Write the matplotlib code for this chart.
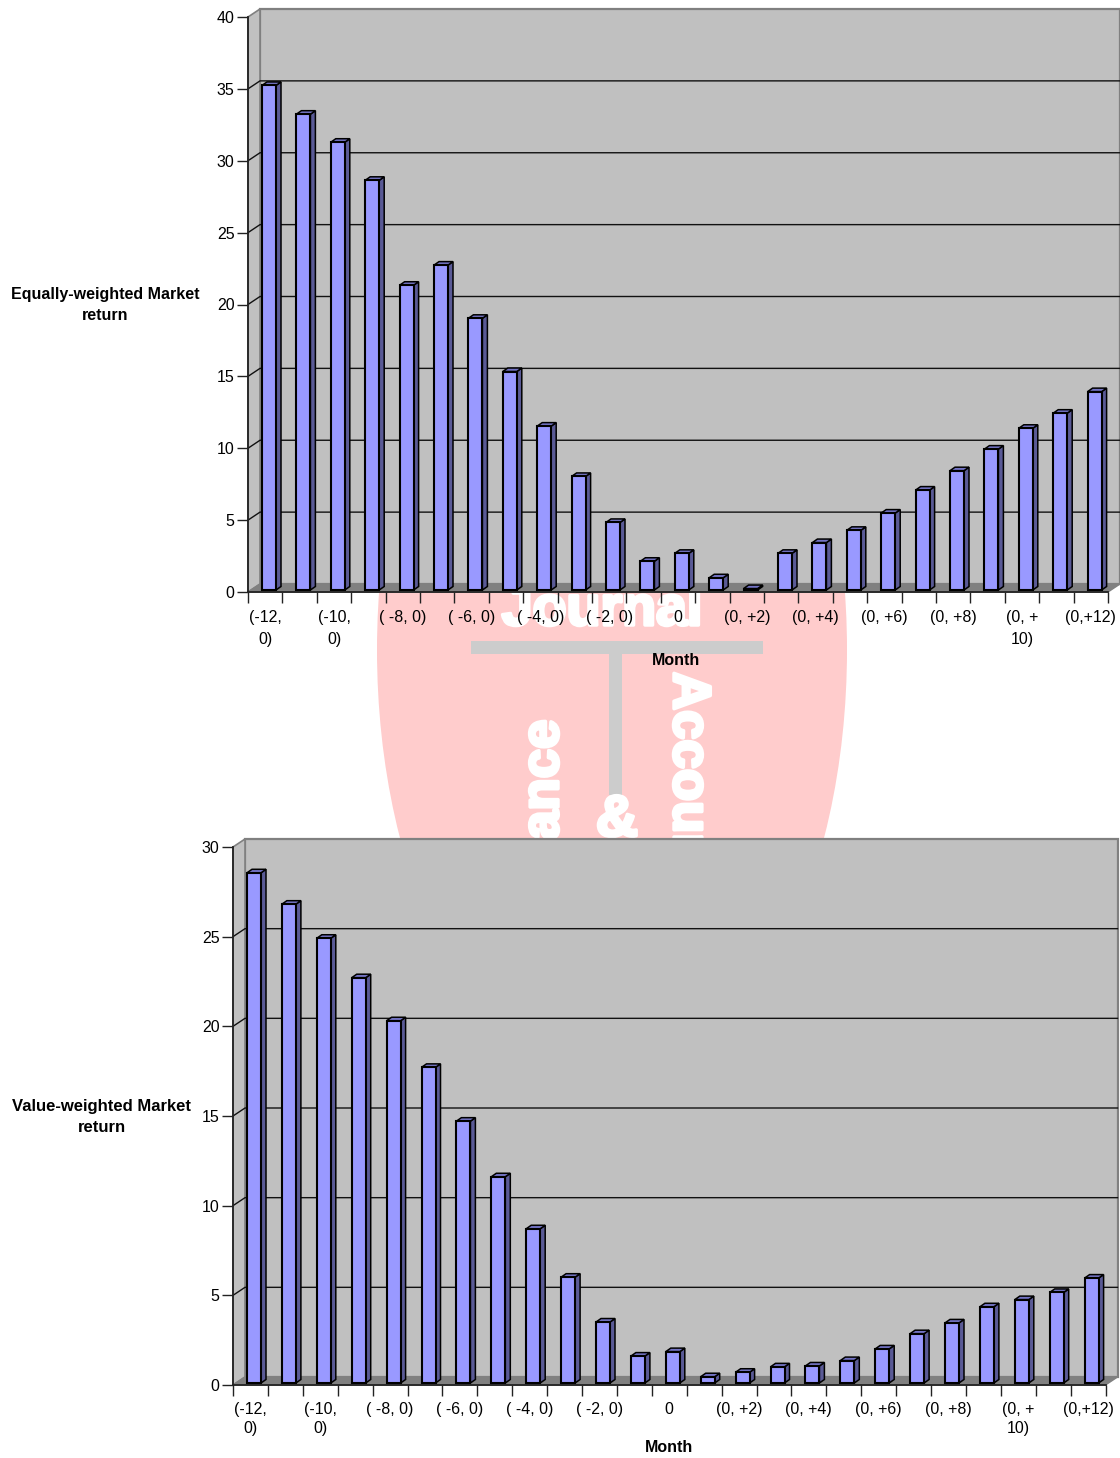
import matplotlib
matplotlib.use('Agg')
import matplotlib.pyplot as plt
import matplotlib.patheffects as pe
from matplotlib.patches import Ellipse, Rectangle, Polygon

plt.rcParams['font.family'] = ['Liberation Sans', 'DejaVu Sans']

W, H = 1120, 1458
month_labels = ['(-12,\n0)', '(-10,\n0)', '( -8, 0)', '( -6, 0)', '( -4, 0)', '( -2, 0)', '0',
                '(0, +2)', '(0, +4)', '(0, +6)', '(0, +8)', '(0, +\n10)', '(0,+12)']
equal_weighted = [35.1, 33.1, 31.15, 28.5, 21.2, 22.6, 18.9, 15.2, 11.4, 7.9, 4.7, 2.0, 2.55,
                  0.85, 0.1, 2.55, 3.3, 4.15, 5.35, 6.95, 8.3, 9.8, 11.25, 12.3, 13.8]
value_weighted = [28.45, 26.7, 24.8, 22.6, 20.2, 17.6, 14.6, 11.5, 8.6, 5.9, 3.4, 1.5, 1.75,
                  0.35, 0.6, 0.9, 0.95, 1.25, 1.9, 2.75, 3.35, 4.25, 4.65, 5.05, 5.85]
equal_ticks = [0, 5, 10, 15, 20, 25, 30, 35, 40]
value_ticks = [0, 5, 10, 15, 20, 25, 30]

fig = plt.figure(figsize=(W / 100, H / 100), dpi=100, facecolor='white')

# watermark layer, in pixel coordinates
bg = fig.add_axes([0, 0, 1, 1], zorder=0)
bg.set_xlim(0, W); bg.set_ylim(H, 0); bg.axis('off')
clip = Rectangle((0, 592), W, 246, transform=bg.transData, fill=False, lw=0)
bg.add_patch(clip)
ell = Ellipse((612, 650), 470, 872, fc='#ffcccc', ec='none')
bg.add_patch(ell); ell.set_clip_path(clip)
for r in [Rectangle((471, 641), 292, 13, fc='#cccccc', ec='none'),
          Rectangle((609, 654), 13, 141, fc='#cccccc', ec='none')]:
    bg.add_patch(r); r.set_clip_path(clip)
wm_style = dict(color='white', fontweight='bold', rotation_mode='anchor', va='baseline')
wm = [bg.text(602, 625, 'Journal', fontsize=40, ha='center', **wm_style),
      bg.text(558, 720, 'Finance', fontsize=38, rotation=90, ha='right', **wm_style),
      bg.text(674, 672, 'Accounting', fontsize=38, rotation=270, ha='left', **wm_style),
      bg.text(617, 836, '&', fontsize=42, ha='center', **wm_style)]
for t in wm:
    t.set_clip_path(clip)
    t.set_path_effects([pe.withStroke(linewidth=2.5, foreground='white')])


def chart(values, yticks, left, right, top, bottom, base_px, first_center_px, ylabel, ylabel_xy, ysize, month_xy, line, pad):
    ax = fig.add_axes([left / W, 1 - bottom / H, (right - left) / W, (bottom - top) / H], zorder=2)
    ax.patch.set_alpha(0)
    n = len(values)
    ax.set_xlim(0, n); ax.set_ylim(0, yticks[-1])
    px = (right - left) / n
    py = (bottom - top) / yticks[-1]
    dx, dy = 12 / px, 8 / py
    ymax = yticks[-1]
    kw = dict(clip_on=False)
    ax.add_patch(Polygon([(dx, dy), (n + dx, dy), (n + dx, ymax + dy), (dx, ymax + dy)], fc='#c0c0c0', ec='#808080', lw=1.6, zorder=1, **kw))
    ax.add_patch(Polygon([(0, 0), (dx, dy), (dx, ymax + dy), (0, ymax)], fc='#c0c0c0', ec='#808080', lw=1.2, zorder=1, **kw))
    ax.add_patch(Polygon([(0, 0), (n, 0), (n + dx, dy), (dx, dy)], fc='#808080', ec='#808080', lw=1, zorder=1, **kw))
    for v in yticks[1:-1]:
        ax.plot([0, dx, n + dx], [v, v + dy, v + dy], color='#111111', lw=1, zorder=1.5, **kw)
    # bars with a small 3-D depth
    bw = 14 / px
    c0 = (first_center_px - left) / px
    base = base_px / py
    ddx, ddy = 5 / px, 3.5 / py
    xs = [c0 + i for i in range(n)]
    for x, v in zip(xs, values):
        xl, xr, y = x - bw / 2, x + bw / 2, base + v
        ax.add_patch(Polygon([(xr, base), (xr + ddx, base + ddy), (xr + ddx, y + ddy), (xr, y)],
                             fc='#5a5a96', ec='black', lw=1.1, zorder=3, **kw))
        ax.add_patch(Polygon([(xl, y), (xr, y), (xr + ddx, y + ddy), (xl + ddx, y + ddy)],
                             fc='#7373c4', ec='black', lw=1.1, zorder=3, **kw))
    ax.bar(xs, values, bottom=base, width=bw, color='#9999ff', edgecolor='black', linewidth=1.5, zorder=4, clip_on=False)
    for s in ['top', 'right']:
        ax.spines[s].set_visible(False)
    for s in ['left', 'bottom']:
        ax.spines[s].set_color('#222222'); ax.spines[s].set_linewidth(1.3); ax.spines[s].set_zorder(5)
    ax.set_yticks(yticks)
    ax.set_yticklabels([str(v) for v in yticks], fontsize=11.5)
    ax.tick_params(axis='y', length=8, width=1, color='#222222', pad=1.8)
    ax.set_xticks(range(n + 1))
    ax.set_xticklabels([])
    ax.tick_params(axis='x', which='major', length=8, width=1, color='#222222')
    ax.set_xticks([i + 0.5 for i in range(0, n, 2)], minor=True)
    ax.set_xticklabels(month_labels, minor=True, fontsize=11.5, linespacing=line)
    ax.tick_params(axis='x', which='minor', length=0, pad=pad)
    bg.text(*ylabel_xy, ylabel, fontsize=ysize, fontweight='bold', ha='center', va='center', linespacing=1.42, zorder=6)
    bg.text(*month_xy, 'Month', fontsize=11.5, fontweight='bold', ha='center', va='center', zorder=6)


chart(equal_weighted, equal_ticks, 248, 1108, 17, 592, 2, 269,
      'Equally-weighted Market\nreturn', (105, 305), 11.5, (676, 660), 1.55, 13)
chart(value_weighted, value_ticks, 233, 1105.5, 847, 1385, 2, 254,
      'Value-weighted Market\nreturn', (102, 1117), 12, (669, 1448), 1.4, 12)

fig.savefig('out.png', dpi=100)
